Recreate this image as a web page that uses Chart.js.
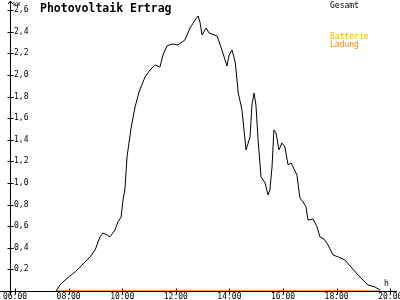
<!DOCTYPE html>
<html>
<head>
<meta charset="utf-8">
<script src="https://cdn.jsdelivr.net/npm/chart.js@4/dist/chart.umd.min.js"></script>
<style>
html,body{margin:0;padding:0;background:#fff;}
#c{display:block;}
</style>
</head>
<body>
<canvas id="c" width="400" height="300"></canvas>
<script>
// Time of day (decimal hours) and total power (kW)
const times = [7.53,7.68,7.87,8.05,8.24,8.43,8.61,8.80,8.99,9.17,9.28,9.43,9.54,9.73,9.84,9.96,10.03,10.10,10.18,10.33,10.48,10.63,10.85,11.04,11.22,11.41,11.52,11.67,11.86,12.08,12.34,12.53,12.72,12.83,12.90,12.98,13.13,13.24,13.54,13.72,13.91,13.99,14.10,14.22,14.33,14.47,14.62,14.77,14.84,14.92,14.99,15.07,15.18,15.33,15.44,15.51,15.59,15.66,15.74,15.85,15.96,16.07,16.19,16.30,16.52,16.63,16.75,16.86,16.93,17.12,17.27,17.38,17.53,17.68,17.87,18.06,18.31,18.57,18.87,19.17,19.43,19.62];
const gesamt = [0,0.056,0.102,0.139,0.176,0.222,0.269,0.315,0.380,0.500,0.537,0.519,0.500,0.565,0.639,0.685,0.843,0.935,1.241,1.509,1.704,1.843,1.981,2.046,2.093,2.074,2.185,2.269,2.287,2.278,2.324,2.435,2.509,2.546,2.491,2.370,2.435,2.389,2.361,2.231,2.083,2.185,2.231,2.111,1.833,1.676,1.306,1.426,1.722,1.833,1.722,1.398,1.056,1.000,0.889,0.935,1.148,1.491,1.463,1.306,1.370,1.333,1.167,1.185,1.074,0.861,0.824,0.778,0.657,0.667,0.593,0.500,0.481,0.426,0.333,0.315,0.287,0.213,0.130,0.056,0.037,0.009];
// Battery charging series
const ladungTimes = [7.57, 19.62];
const ladungValues = [0, 0];
// Axis ticks
const xTicks = [6,8,10,12,14,16,18,20];
const yTicks = [0.2,0.4,0.6,0.8,1.0,1.2,1.4,1.6,1.8,2.0,2.2,2.4,2.6];
const titleText = 'Photovoltaik Ertrag';
const unitY = 'kW';
const unitX = 'h';
const legendItems = [
  {text:'Gesamt', color:'#000000'},
  {text:'Batterie', color:'#FFAA00'},
  {text:'Ladung', color:'#FF8000'}
];

const FONT = '"DejaVu Sans Mono", monospace';

const decor = {
  id: 'decor',
  beforeDatasetsDraw(chart) {
    const {ctx, chartArea: a, scales: {x, y}} = chart;
    ctx.save();
    ctx.strokeStyle = '#000';
    ctx.lineWidth = 1;
    const y0 = Math.round(y.getPixelForValue(0)) + 0.5;
    const x0 = Math.round(a.left) + 0.5;
    ctx.beginPath();
    ctx.moveTo(0, y0); ctx.lineTo(a.right, y0);
    ctx.moveTo(x0, 1); ctx.lineTo(x0, y0 + 4);
    yTicks.forEach(v => {
      const p = Math.round(y.getPixelForValue(v)) + 0.5;
      ctx.moveTo(x0 - 3, p); ctx.lineTo(x0 + 3, p);
    });
    xTicks.forEach(v => {
      const p = Math.round(x.getPixelForValue(v)) + 0.5;
      ctx.moveTo(p, y0 - 3); ctx.lineTo(p, y0 + 3);
    });
    // arrow at top of y axis
    ctx.moveTo(x0 - 2.5, 4); ctx.lineTo(x0, 1); ctx.lineTo(x0 + 2.5, 4);
    ctx.stroke();
    ctx.restore();
  },
  afterDraw(chart) {
    const {ctx, chartArea: a, scales: {x, y}} = chart;
    ctx.save();
    ctx.textBaseline = 'alphabetic';
    ctx.textAlign = 'left';
    ctx.fillStyle = '#000';
    ctx.font = 'bold 11.5px ' + FONT;
    ctx.fillText(titleText, 40, 12);
    ctx.font = '6px ' + FONT;
    ctx.fillText(unitY, 13, 6);
    ctx.font = '8px ' + FONT;
    ctx.fillText(unitX, Math.round(x.getPixelForValue(20)) - 6, y.getPixelForValue(0) - 5);
    const lx = 330;
    const ly = [8, 39, 47];
    legendItems.forEach((it, i) => {
      ctx.fillStyle = it.color;
      ctx.fillText(it.text, lx, ly[i]);
    });
    ctx.restore();
  }
};

new Chart(document.getElementById('c'), {
  type: 'line',
  data: {
    datasets: [
      {
        label: legendItems[0].text,
        data: times.map((t, i) => ({x: t, y: gesamt[i]})),
        borderColor: '#000',
        borderWidth: 1,
        pointRadius: 0,
        tension: 0,
        fill: false
      },
      {
        label: legendItems[2].text,
        data: ladungTimes.map((t, i) => ({x: t, y: ladungValues[i]})),
        borderColor: '#FF8000',
        borderWidth: 1.6,
        pointRadius: 0,
        tension: 0,
        fill: false
      }
    ]
  },
  options: {
    responsive: false,
    animation: false,
    devicePixelRatio: 1,
    layout: {padding: {left: 0, top: 1, right: 3, bottom: 0}},
    plugins: {legend: {display: false}, tooltip: {enabled: false}, title: {display: false}},
    scales: {
      x: {
        type: 'linear',
        min: 5.8134,
        max: 20.253,
        grid: {display: false, drawTicks: false},
        border: {display: false},
        afterBuildTicks: s => { s.ticks = xTicks.map(v => ({value: v})); },
        afterFit: s => { s.height = 9; s.paddingLeft = 0; s.paddingRight = 0; },
        ticks: {
          maxRotation: 0,
          autoSkip: false,
          padding: 1,
          color: '#000',
          font: {family: FONT, size: 8},
          callback: v => String(v).padStart(2, '0') + ':00'
        }
      },
      y: {
        type: 'linear',
        min: 0,
        max: 2.685,
        grid: {display: false, drawTicks: false},
        border: {display: false},
        afterBuildTicks: s => { s.ticks = yTicks.map(v => ({value: v})); },
        afterFit: s => { s.width = 10; s.paddingTop = 0; s.paddingBottom = 0; },
        ticks: {
          mirror: true,
          padding: 4,
          color: '#000',
          autoSkip: false,
          font: {family: FONT, size: 8},
          callback: v => v.toFixed(1).replace('.', ',')
        }
      }
    }
  },
  plugins: [decor]
});
</script>
</body>
</html>
